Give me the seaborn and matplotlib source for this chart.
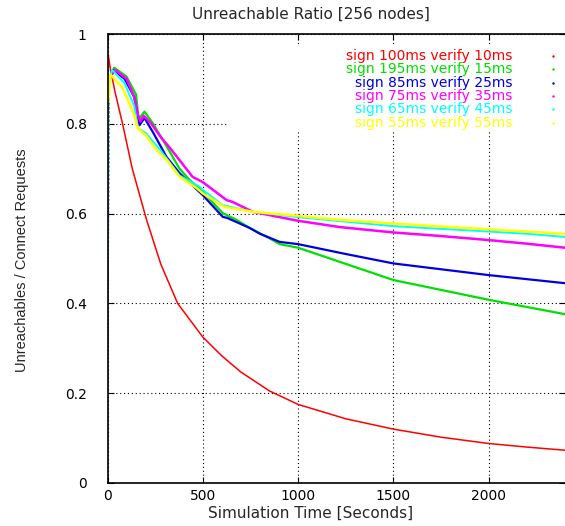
import numpy as np
import pandas as pd
import seaborn as sns
import matplotlib.pyplot as plt
from matplotlib import font_manager
from matplotlib.patches import Rectangle

# series (time in seconds, unreachable ratio)
red_x = [0, 5, 16, 40, 79, 130, 205, 280, 368, 500, 600, 700, 850, 1000, 1250, 1500, 1750, 2000, 2200, 2400]
red_y = [0.99, 0.95, 0.92, 0.87, 0.80, 0.70, 0.586, 0.487, 0.40, 0.325, 0.283, 0.247, 0.205, 0.175, 0.143, 0.12, 0.102, 0.088, 0.080, 0.073]

green_x = [0, 8, 35, 100, 150, 163, 194, 240, 310, 378, 431, 500, 604, 677, 746, 850, 903, 1000, 1250, 1500, 1750, 2000, 2200, 2400]
green_y = [0.50, 0.90, 0.925, 0.905, 0.865, 0.81, 0.827, 0.80, 0.75, 0.70, 0.675, 0.649, 0.601, 0.586, 0.568, 0.545, 0.532, 0.524, 0.488, 0.452, 0.43, 0.408, 0.392, 0.376]

blue_x = [0, 8, 30, 90, 140, 168, 194, 240, 310, 378, 500, 604, 630, 746, 800, 903, 1000, 1250, 1500, 1750, 2000, 2200, 2400]
blue_y = [0.23, 0.90, 0.92, 0.90, 0.86, 0.797, 0.813, 0.78, 0.726, 0.69, 0.641, 0.593, 0.59, 0.568, 0.555, 0.537, 0.532, 0.51, 0.489, 0.476, 0.463, 0.454, 0.445]

magenta_x = [0, 8, 40, 100, 140, 160, 172, 190, 230, 280, 330, 378, 446, 500, 625, 656, 762, 1000, 1218, 1500, 1750, 2000, 2200, 2400]
magenta_y = [0.33, 0.90, 0.92, 0.90, 0.86, 0.82, 0.805, 0.818, 0.80, 0.77, 0.745, 0.719, 0.682, 0.670, 0.630, 0.626, 0.604, 0.584, 0.570, 0.558, 0.55, 0.541, 0.533, 0.524]

cyan_x = [0, 8, 25, 90, 140, 160, 200, 280, 378, 483, 500, 604, 762, 1000, 1250, 1500, 2000, 2200, 2400]
cyan_y = [0.22, 0.90, 0.92, 0.89, 0.84, 0.79, 0.78, 0.74, 0.685, 0.66, 0.653, 0.619, 0.604, 0.592, 0.582, 0.572, 0.56, 0.555, 0.548]

yellow_x = [0, 5, 15, 79, 140, 158, 200, 260, 310, 378, 467, 500, 614, 762, 1000, 1218, 1500, 2000, 2200, 2400]
yellow_y = [0.28, 0.85, 0.91, 0.88, 0.82, 0.79, 0.775, 0.74, 0.72, 0.682, 0.657, 0.645, 0.615, 0.604, 0.595, 0.586, 0.578, 0.565, 0.56, 0.555]

labels = ["sign 100ms verify 10ms", "sign 195ms verify 15ms", "sign 85ms verify 25ms",
          "sign 75ms verify 35ms", "sign 65ms verify 45ms", "sign 55ms verify 55ms"]
colors = ["#ff0000", "#00e000", "#0000e0", "#ff00ff", "#00ffff", "#ffff00"]
xs = [red_x, green_x, blue_x, magenta_x, cyan_x, yellow_x]
ys = [red_y, green_y, blue_y, magenta_y, cyan_y, yellow_y]
widths = [1.1, 1.6, 1.6, 1.8, 1.4, 1.8]

x_ticks = [0, 500, 1000, 1500, 2000]
y_ticks = [0, 0.2, 0.4, 0.6, 0.8, 1]
y_tick_labels = ["0", "0.2", "0.4", "0.6", "0.8", "1"]

sns.set_style("ticks")
plt.rcParams['font.family'] = ['DejaVu Sans']

W, H = 565, 526
fig = plt.figure(figsize=(W / 100, H / 100), dpi=100)
left, right, top, bottom = 107.5, 565, 34, 483
ax = fig.add_axes([left / W, 1 - bottom / H, (right - left) / W, (bottom - top) / H])

for i in range(len(labels)):
    df = pd.DataFrame({"t": xs[i], "r": ys[i]})
    # steep start-up segment is drawn dotted in the original
    sns.lineplot(data=df.iloc[:2], x="t", y="r", color=colors[i], lw=1.2, ls=(0, (1, 1.5)),
                 sort=False, estimator=None, ax=ax, zorder=2)
    sns.lineplot(data=df.iloc[1:], x="t", y="r", color=colors[i], lw=widths[i],
                 sort=False, estimator=None, ax=ax, zorder=2)

ax.set_xlim(0, 2400)
ax.set_ylim(0, 1)
ax.set_xticks(x_ticks)
ax.set_yticks(y_ticks)
ax.set_yticklabels(y_tick_labels)
ax.set_xlabel("")
ax.set_ylabel("")
ax.set_axisbelow(True)
ax.grid(True, color="black", lw=0.8, ls=(0, (1, 2.5)))
ax.tick_params(direction="in", length=4, width=0.8, top=True, right=True,
               labelsize=10, colors="black")
ax.tick_params(axis="y", pad=15)
ax.tick_params(axis="x", pad=4)
for s in ["left", "bottom", "top"]:
    ax.spines[s].set_color("black")
    ax.spines[s].set_linewidth(1.2)
ax.spines["right"].set_visible(False)

# opaque key area, gnuplot style
ax.add_patch(Rectangle((0.264, 0.786), 0.736, 0.19, transform=ax.transAxes,
                       facecolor="white", edgecolor="none", zorder=1.5))
row_y = [0.9517, 0.9213, 0.8915, 0.8619, 0.8330, 0.8024]
for i in range(len(labels)):
    ax.text(0.886, row_y[i], labels[i], color=colors[i], ha="right", va="center",
            fontsize=10, transform=ax.transAxes, zorder=3)
    ax.plot([0.974], [row_y[i]], marker=".", ms=1.5, color=colors[i],
            transform=ax.transAxes, zorder=3)

fig.text(311 / W, 1 - 14 / H, "Unreachable Ratio [256 nodes]", ha="center", va="center", fontsize=11)
fig.text(311 / W, 1 - 513 / H, "Simulation Time [Seconds]", ha="center", va="center", fontsize=11)

installed = {f.name for f in font_manager.fontManager.ttflist}
if "Liberation Sans Narrow" in installed:
    ylab_font, ylab_size = "Liberation Sans Narrow", 12.5
else:
    ylab_font, ylab_size = "Liberation Sans", 10.5
fig.text(22 / W, 1 - 260 / H, "Unreachables / Connect Requests", ha="center", va="center",
         rotation=90, fontsize=ylab_size, family=ylab_font)

fig.savefig("out.png", dpi=100)
